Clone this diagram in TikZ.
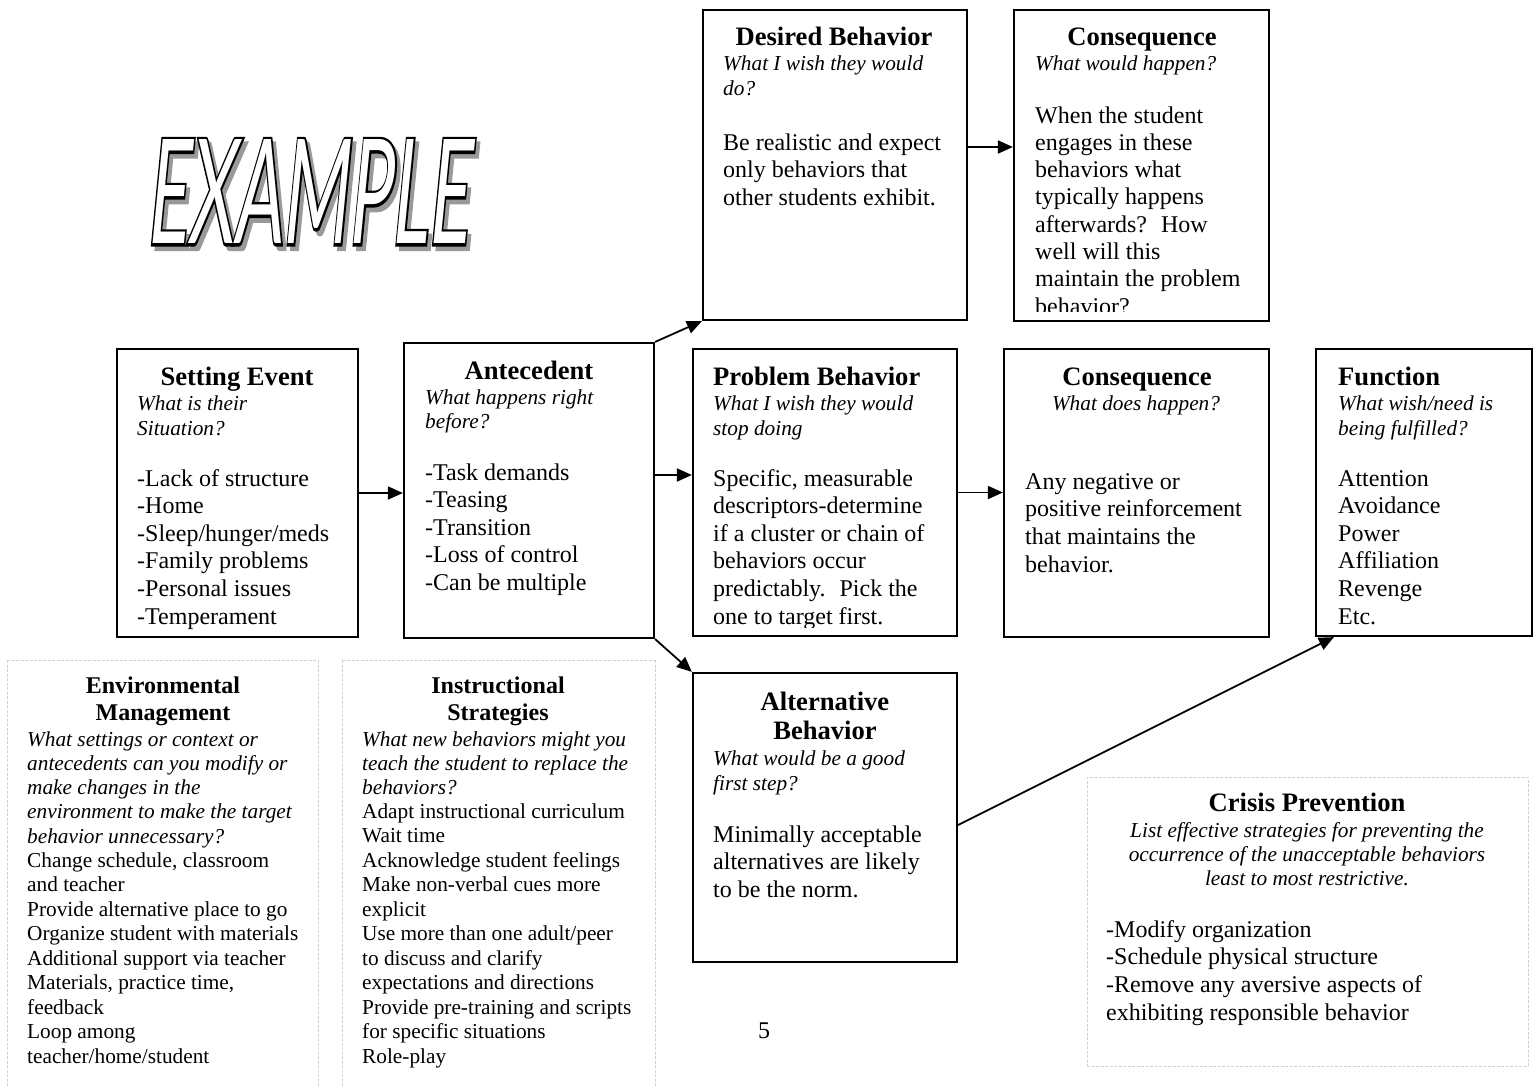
\documentclass[tikz,border=0pt]{standalone}
\usepackage{fontspec}
\setmainfont{Liberation Serif}
\newfontfamily\exfont[FakeSlant=0.2]{Lato}
\newfontfamily\exfontb[FakeSlant=0.2,FakeBold=4]{Lato}
\usetikzlibrary{arrows.meta,calc}
\newcommand{\txtlines}[6]{%
  \foreach \t [count=\i from 0] in {#6} {\node[#2, name=#1\i] at (#3, {#4+\i*#5}) {\t};}}
\tikzset{
  box/.style={draw, line width=2.2pt, inner sep=0, fill=none},
  softbox/.style={draw=black!18, line width=0.8pt, dash pattern=on 3pt off 1.5pt},
  arr/.style={line width=1.8pt, -{Triangle[length=15pt,width=13pt]}},
  ttl/.style={anchor=base, inner sep=0, font=\fontsize{26.6}{30}\selectfont\bfseries},
  ttll/.style={anchor=base west, inner sep=0, font=\fontsize{26.6}{30}\selectfont\bfseries},
  ital/.style={anchor=base west, inner sep=0, font=\fontsize{21.3}{24.5}\selectfont\itshape},
  italc/.style={anchor=base, inner sep=0, font=\fontsize{21.3}{24.5}\selectfont\itshape},
  body/.style={anchor=base west, inner sep=0, font=\fontsize{24}{28}\selectfont},
  sttl/.style={anchor=base, inner sep=0, font=\fontsize{24}{27}\selectfont\bfseries},
  sbody/.style={anchor=base west, inner sep=0, font=\fontsize{21.3}{24.5}\selectfont},
}
\begin{document}
\begin{tikzpicture}[x=1pt,y=-1pt]
\useasboundingbox (0,0) rectangle (1540,1087);

% EXAMPLE (outlined word art with shadow)
\node[inner sep=0] (ex) at (307,194) {\resizebox{322pt}{104pt}{\fontsize{100}{100}\selectfont
  \rlap{\raisebox{-3.2pt}{\hspace{5pt}\exfontb\color{black!40}EXAMPLE}}%
  \rlap{\exfontb\color{black}EXAMPLE}%
  {\exfont\color{white}EXAMPLE}}};

% main boxes
\node[box, minimum width=264pt, minimum height=310pt] (des) at (835,165) {};
\node[box, minimum width=255pt, minimum height=311pt] (con1) at (1141.5,165.5) {};
\node[box, minimum width=241pt, minimum height=288pt] (set) at (237.5,493) {};
\node[box, minimum width=250pt, minimum height=295pt] (ant) at (529,490.5) {};
\node[box, minimum width=264pt, minimum height=287pt] (prob) at (825,492.5) {};
\node[box, minimum width=265pt, minimum height=288pt] (con2) at (1136.5,493) {};
\node[box, minimum width=216pt, minimum height=287pt] (func) at (1424,492.5) {};
\node[box, minimum width=264pt, minimum height=289pt] (alt) at (825,817.5) {};

% soft boxes
\draw[softbox] (7,660) -- (7,1090) (318,660) -- (318,1090) (7,660) -- (318,660);
\draw[softbox] (342.5,660) -- (342.5,1090) (655,660) -- (655,1090) (342.5,660) -- (655,660);
\node[softbox, minimum width=441pt, minimum height=289pt, inner sep=0] (crisis) at (1307.5,921.5) {};

% connectors
\draw[arr] (set.east) -- (set.east -| ant.west);
\draw[arr] (ant.north east) -- (des.south west);
\draw[arr] ([yshift=15.5pt]ant.east) -- ([yshift=15.5pt]ant.east -| prob.west);
\draw[arr] (ant.south east) -- (alt.north west);
\draw[arr] (prob.east) -- (prob.east -| con2.west);
\draw[arr] ([yshift=18pt]des.east) -- ([yshift=18pt]des.east -| con1.west);
\draw[arr] ([yshift=-7.5pt]alt.east) -- ([xshift=19pt]func.south west);

% Desired Behavior
\node[ttl] (des-t) at (834,45) {Desired Behavior};
\txtlines{des-i}{ital}{723}{70}{25}{What I wish they would,do?}
\txtlines{des-b}{body}{723}{150}{27.6}{Be realistic and expect,only behaviors that,other students exhibit.}

% Consequence (top)
\node[ttl] (con1-t) at (1142,45) {Consequence};
\node[ital] (con1-i) at (1035,70) {What would happen?};
\begin{scope}
\clip (1016,12) rectangle (1267,311);
\txtlines{con1-b}{body}{1035}{123}{27.3}{When the student,engages in these,behaviors what,typically happens,afterwards?~ How,well will this,maintain the problem,behavior?}
\end{scope}

% Setting Event
\node[ttl] (set-t) at (237,385) {Setting Event};
\txtlines{set-i}{ital}{137}{410}{25}{What is their,Situation?}
\txtlines{set-b}{body}{137}{486}{27.6}{-Lack of structure,-Home,-Sleep/hunger/meds,-Family problems,-Personal issues,-Temperament}

% Antecedent
\node[ttl] (ant-t) at (529,379) {Antecedent};
\txtlines{ant-i}{ital}{425}{404}{24.5}{What happens right,before?}
\txtlines{ant-b}{body}{425}{480}{27.5}{-Task demands,-Teasing,-Transition,-Loss of control,-Can be multiple}

% Problem Behavior
\node[ttll] (prob-t) at (713,385) {Problem Behavior};
\txtlines{prob-i}{ital}{713}{410}{25}{What I wish they would,stop doing}
\begin{scope}
\clip (695,351) rectangle (955,627);
\txtlines{prob-b}{body}{713}{486}{27.6}{{Specific, measurable},descriptors-determine,if a cluster or chain of,behaviors occur,predictably.~ Pick the,one to target first.}
\end{scope}

% Consequence (middle)
\node[ttl] (con2-t) at (1137,385) {Consequence};
\node[italc] (con2-i) at (1136,410) {What does happen?};
\txtlines{con2-b}{body}{1025}{489}{27.7}{Any negative or,positive reinforcement,that maintains the,behavior.}

% Function
\node[ttll] (func-t) at (1338,385) {Function};
\txtlines{func-i}{ital}{1338}{410}{25}{What wish/need is,being fulfilled?}
\txtlines{func-b}{body}{1338}{486}{27.6}{Attention,Avoidance,Power,Affiliation,Revenge,Etc.}

% Alternative Behavior
\txtlines{alt-t}{ttl}{825}{710}{29}{Alternative,Behavior}
\txtlines{alt-i}{ital}{713}{765}{25}{What would be a good,first step?}
\txtlines{alt-b}{body}{713}{842}{27.5}{Minimally acceptable,alternatives are likely,to be the norm.}

% Environmental Management
\txtlines{env-t}{sttl}{163}{693}{27}{Environmental,Management}
\txtlines{env-i}{ital}{27}{746}{24.3}{What settings or context or,antecedents can you modify or,make changes in the,environment to make the target,behavior unnecessary?}
\txtlines{env-b}{sbody}{27}{867}{24.5}{{Change schedule, classroom},and teacher,Provide alternative place to go,Organize student with materials,Additional support via teacher,{Materials, practice time,},feedback,Loop among,teacher/home/student}

% Instructional Strategies
\txtlines{ins-t}{sttl}{498}{693}{27}{Instructional,Strategies}
\txtlines{ins-i}{ital}{362}{746}{24.3}{What new behaviors might you,teach the student to replace the,behaviors?}
\txtlines{ins-b}{sbody}{362}{818}{24.5}{Adapt instructional curriculum,Wait time,Acknowledge student feelings,Make non-verbal cues more,explicit,Use more than one adult/peer,to discuss and clarify,expectations and directions,Provide pre-training and scripts,for specific situations,Role-play}

% Crisis Prevention
\node[ttl] (cri-t) at (1307,811) {Crisis Prevention};
\txtlines{cri-i}{italc}{1307}{837}{24.3}{List effective strategies for preventing the,occurrence of the unacceptable behaviors,least to most restrictive.}
\txtlines{cri-b}{body}{1106}{937}{27.7}{-Modify organization,-Schedule physical structure,-Remove any aversive aspects of,exhibiting responsible behavior}

% page number
\node[anchor=base, inner sep=0, font=\fontsize{24}{28}\selectfont] (pg) at (764,1038) {5};
\end{tikzpicture}
\end{document}
